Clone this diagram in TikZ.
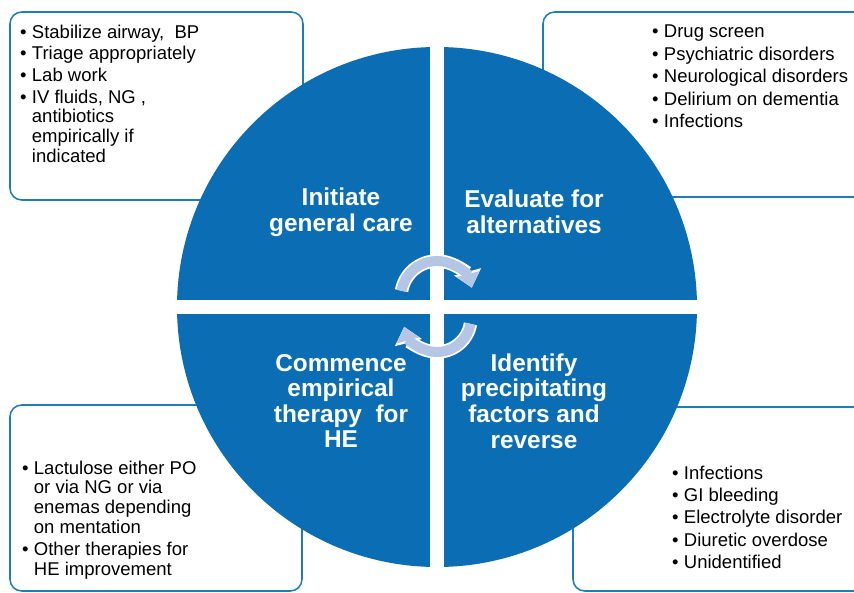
\documentclass[tikz,border=0pt]{standalone}
\usepackage{fontspec}
\setmainfont{Liberation Sans}
\usetikzlibrary{arrows.meta, positioning}
\definecolor{heblue}{RGB}{11,110,180}
\definecolor{boxline}{RGB}{30,125,182}
\definecolor{cyclegrey}{RGB}{180,198,228}

\begin{document}
\begin{tikzpicture}
            [x=0.03cm, y=-0.03cm,
            infobox/.style={draw=boxline, line width=1.3pt, rounded corners=10pt},
            quadlabel/.style={text=white, align=center, inner sep=0pt,
                font=\fontsize{20.8}{21.8}\selectfont\bfseries},
            bulletlist/.style={anchor=north west, inner sep=0pt,
                font=\fontsize{15.8}{16.8}\selectfont},
            cycleback/.style={white, line width=11.5pt, -{Triangle[length=14pt, width=23pt]}},
            cyclefront/.style={cyclegrey, line width=8.5pt, -{Triangle[length=12pt, width=19pt]}}]

            \clip (0,0) rectangle (854,593);
            \fill[white] (0,0) rectangle (854,593);

            % boxes, behind the circle
            \draw[infobox] (10,12) rectangle (303,200);
            \draw[infobox] (543,12) rectangle (870,197);
            \draw[infobox] (10,405) rectangle (302,591);
            \draw[infobox] (573,407) rectangle (870,591);

            % circle cut in four
            \fill[heblue] (437,307) circle (260);
            \fill[white] (430,30) rectangle (444,590);
            \fill[white] (160,300) rectangle (720,314);

            % cycle arrows in the middle
            \draw[cycleback] (437,297) ++(190:36) arc[start angle=190, end angle=345, radius=36];
            \draw[cyclefront] (437,297) ++(190:36) arc[start angle=190, end angle=345, radius=36];
            \draw[cycleback] (437,318) ++(10:34) arc[start angle=10, end angle=165, radius=34];
            \draw[cyclefront] (437,318) ++(10:34) arc[start angle=10, end angle=165, radius=34];

            \node[quadlabel] (initiate) at (341,212) {Initiate\\general care};
            \node[quadlabel] (evaluate) at (534,212) {Evaluate for\\alternatives};
            \node[quadlabel] (commence) at (341,401) {Commence\\empirical\\therapy\ \ for\\HE};
            \node[quadlabel] (identify) at (534,401) {Identify\\precipitating\\factors and\\reverse};

            \node[bulletlist] (care) at (20,24.2) {\begin{tabular}{@{}p{10pt}@{}l@{}}
                \textbullet & Stabilize airway,\ \ BP\\[1.7pt]
                \textbullet & Triage appropriately\\[1.7pt]
                \textbullet & Lab work\\[1.7pt]
                \textbullet & IV fluids, NG ,\\
                & antibiotics\\
                & empirically if\\
                & indicated
            \end{tabular}};
            \node[bulletlist] (alternatives) at (652,23.5) {\begin{tabular}{@{}p{10pt}@{}l@{}}
                \textbullet & Drug screen\\[2.5pt]
                \textbullet & Psychiatric disorders\\[2.5pt]
                \textbullet & Neurological disorders\\[2.5pt]
                \textbullet & Delirium on dementia\\[2.5pt]
                \textbullet & Infections
            \end{tabular}};
            \node[bulletlist] (therapy) at (22,460) {\begin{tabular}{@{}p{10pt}@{}l@{}}
                \textbullet & Lactulose either PO\\
                & or via NG or via\\
                & enemas depending\\
                & on mentation\\[2.5pt]
                \textbullet & Other therapies for\\
                & HE improvement
            \end{tabular}};
            \node[bulletlist] (factors) at (672,465) {\begin{tabular}{@{}p{10pt}@{}l@{}}
                \textbullet & Infections\\[2.3pt]
                \textbullet & GI bleeding\\[2.3pt]
                \textbullet & Electrolyte disorder\\[2.3pt]
                \textbullet & Diuretic overdose\\[2.3pt]
                \textbullet & Unidentified
            \end{tabular}};

          \end{tikzpicture}
\end{document}
